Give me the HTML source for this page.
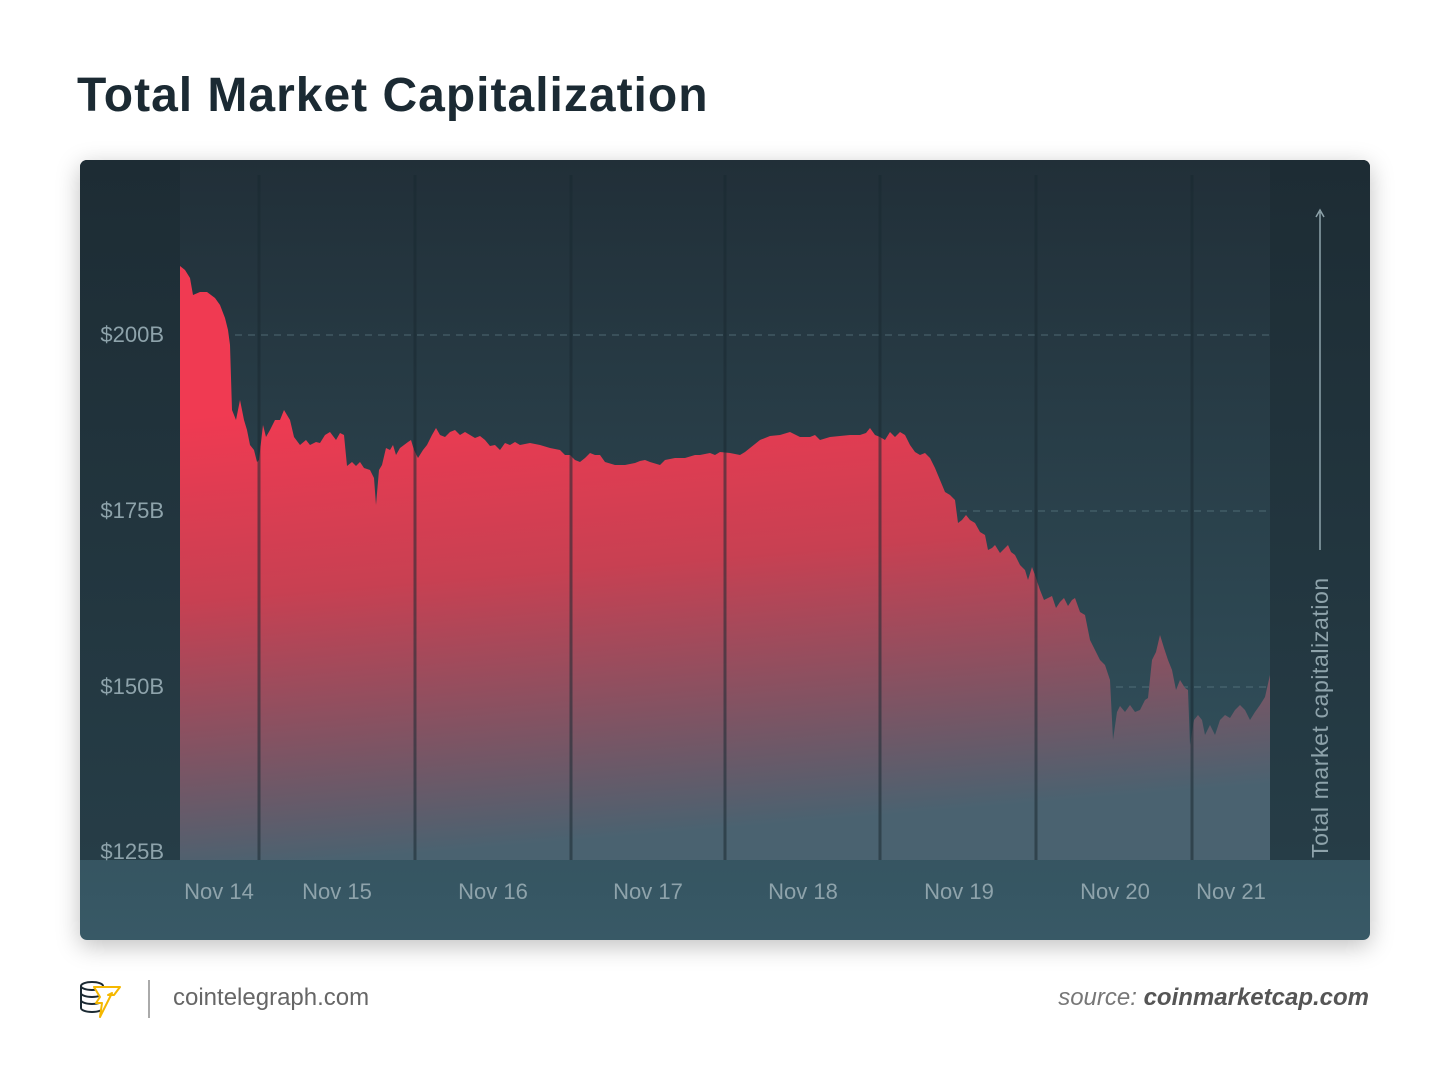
<!DOCTYPE html>
<html><head><meta charset="utf-8"><style>
body{margin:0;width:1450px;height:1070px;background:#fff;overflow:hidden;font-family:"Liberation Sans",sans-serif;position:relative}
.title{position:absolute;left:77px;top:68px;font-size:48px;font-weight:bold;color:#1b2a33;letter-spacing:1.0px}
.panel{position:absolute;left:80px;top:160px;width:1290px;height:780px;border-radius:7px;box-shadow:0 6px 24px rgba(0,0,0,0.25);overflow:hidden}
.foot{position:absolute;top:984px;font-size:24px;color:#666}
</style></head><body>
<div class="title">Total Market Capitalization</div>
<div class="panel">
<svg width="1290" height="780" viewBox="80 160 1290 780" xmlns="http://www.w3.org/2000/svg">
<defs>
<linearGradient id="bg" x1="0" y1="0" x2="0" y2="1"><stop offset="0" stop-color="#1f2f38"/><stop offset="1" stop-color="#385966"/></linearGradient>
<linearGradient id="pl" x1="0" y1="0" x2="0" y2="1"><stop offset="0" stop-color="#212f38"/><stop offset="1" stop-color="#33535f"/></linearGradient>
<linearGradient id="side" x1="0" y1="0" x2="0" y2="1"><stop offset="0" stop-color="#1d2c34"/><stop offset="1" stop-color="#263d47"/></linearGradient>
<linearGradient id="ar" x1="0" y1="0" x2="0.15" y2="1"><stop offset="0.25" stop-color="#f03a52"/><stop offset="0.55" stop-color="#c84052"/><stop offset="1" stop-color="#4a6270"/></linearGradient>
</defs>
<rect x="80" y="160" width="1290" height="780" fill="url(#bg)"/>
<rect x="80" y="160" width="100" height="700" fill="url(#side)"/>
<rect x="1270" y="160" width="100" height="700" fill="url(#side)"/>
<rect x="180" y="160" width="1090" height="700" fill="url(#pl)"/>
<g stroke="#5f7d87" stroke-width="1" stroke-dasharray="7,6" opacity="0.7">
<line x1="235" y1="335" x2="1270" y2="335"/><line x1="180" y1="511" x2="1270" y2="511"/><line x1="180" y1="687" x2="1270" y2="687"/></g>
<path fill="url(#ar)" d="M180,860 L180,266 185,270 190,278 193,295 200,292 207,292 215,298 220,305 225,318 228,330 230,345 232,410 236,420 240,400 244,420 247,430 250,445 254,450 257,462 259,460 263,425 266,437 270,430 275,420 280,420 284,410 290,420 294,437 300,445 306,440 310,445 316,442 320,443 325,435 330,432 336,440 340,433 344,435 347,466 352,462 356,466 360,462 364,468 370,470 374,478 376,505 379,470 382,465 386,448 390,450 393,445 396,455 400,448 404,445 408,442 411,440 414,450 418,458 423,450 427,445 432,435 436,428 440,435 445,437 450,432 455,430 460,435 465,432 470,435 475,438 480,436 485,440 490,446 495,445 500,450 505,443 510,445 515,442 520,445 530,443 540,445 550,448 560,450 565,455 570,455 575,460 580,462 585,458 590,453 595,455 600,455 605,462 615,465 625,465 635,463 640,461 645,460 650,462 660,465 665,460 675,458 685,458 695,455 700,455 710,453 715,455 720,452 730,453 740,455 745,452 750,448 760,440 770,436 780,435 790,432 800,437 810,437 815,435 820,440 830,437 840,436 850,435 860,435 866,433 870,428 875,435 880,437 885,440 890,432 895,437 900,432 905,435 910,445 915,452 920,455 925,453 930,458 935,468 940,480 945,492 950,495 955,500 958,523 962,520 966,515 970,520 975,523 980,532 985,535 988,550 992,548 995,545 1000,553 1005,548 1008,545 1011,552 1015,555 1020,565 1025,570 1028,580 1032,567 1036,578 1040,590 1044,600 1048,598 1052,596 1056,608 1060,602 1064,598 1068,606 1072,600 1075,598 1080,612 1085,615 1090,640 1095,650 1100,660 1105,665 1110,680 1113,740 1117,712 1120,706 1125,712 1130,705 1135,712 1140,710 1145,700 1148,698 1152,660 1156,652 1160,635 1164,648 1168,660 1172,670 1176,690 1180,680 1185,688 1188,690 1190,745 1194,720 1198,715 1202,720 1205,735 1210,725 1215,735 1220,720 1225,715 1230,718 1235,710 1240,705 1245,710 1250,720 1255,712 1260,705 1265,697 1270,675 L1270,860 Z"/>
<g stroke="#1b2a32" stroke-width="3" opacity="0.55">
<line x1="259" y1="175" x2="259" y2="860"/><line x1="415" y1="175" x2="415" y2="860"/><line x1="571" y1="175" x2="571" y2="860"/><line x1="725" y1="175" x2="725" y2="860"/><line x1="880" y1="175" x2="880" y2="860"/><line x1="1036" y1="175" x2="1036" y2="860"/><line x1="1192" y1="175" x2="1192" y2="860"/></g>
<g fill="#8ea3ab" font-size="22" font-family="Liberation Sans, sans-serif" text-anchor="end">
<text x="164" y="342">$200B</text><text x="164" y="518">$175B</text><text x="164" y="694">$150B</text><text x="164" y="859">$125B</text></g>
<g fill="#8ea3ab" font-size="22" font-family="Liberation Sans, sans-serif" text-anchor="middle">
<text x="219" y="899">Nov 14</text><text x="337" y="899">Nov 15</text><text x="493" y="899">Nov 16</text><text x="648" y="899">Nov 17</text><text x="803" y="899">Nov 18</text><text x="959" y="899">Nov 19</text><text x="1115" y="899">Nov 20</text><text x="1231" y="899">Nov 21</text></g>
<line x1="1320" y1="212" x2="1320" y2="550" stroke="#8ea3ab" stroke-width="1.5"/>
<path d="M1316,217 L1320,210 L1324,217" fill="none" stroke="#8ea3ab" stroke-width="1.5"/>
<text transform="translate(1328,858) rotate(-90)" fill="#8ea3ab" font-size="23" letter-spacing="0.6" font-family="Liberation Sans, sans-serif">Total market capitalization</text>
</svg>
</div>
<svg style="position:absolute;left:78px;top:978px" width="48" height="44" viewBox="0 0 48 44">
<g fill="none" stroke="#1b2a33" stroke-width="2"><ellipse cx="14" cy="8" rx="11" ry="4"/><path d="M3,8 v22 a11,4 0 0 0 22,0 v-22"/><path d="M3,15 a11,4 0 0 0 22,0"/><path d="M3,22 a11,4 0 0 0 22,0"/></g>
<path d="M16,9 h26 l-6,8 h-6 l4,-2 l-12,24 l2,-14 h-6 l4,-6 z" fill="#fff" stroke="#f5b800" stroke-width="2" stroke-linejoin="round"/>
</svg>
<div style="position:absolute;left:148px;top:980px;width:2px;height:38px;background:#aaa"></div>
<div class="foot" style="left:173px">cointelegraph.com</div>
<div class="foot" style="right:81px;color:#555"><i style="color:#777">source:</i> <b><i>coinmarketcap.com</i></b></div>
</body></html>
